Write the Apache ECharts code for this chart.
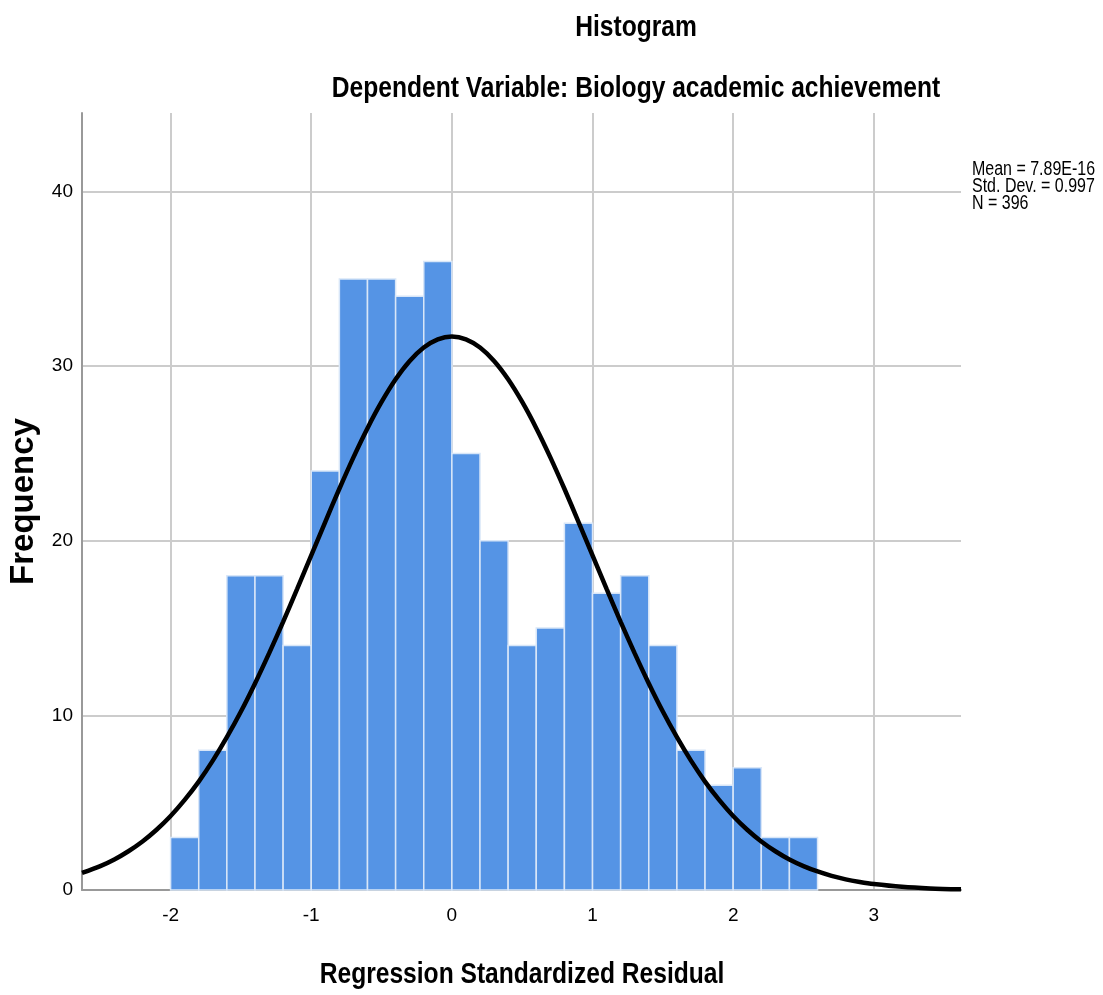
<!DOCTYPE html>
<html>
  <head>
    <meta charset="utf-8" />
    <title>Histogram</title>
    <script src="https://cdnjs.cloudflare.com/ajax/libs/echarts/6.0.0/echarts.min.js"></script>
  </head>
  <body>
    <style>
      html,
      body {
        width: 100%;
        height: 100%;
        margin: 0;
        padding: 0;
        background: #ffffff;
      }
      #main {
        width: 1103px;
        height: 995px;
      }
    </style>
    <div id="main"></div>
    <script type="text/javascript">

      // histogram bins (left edge of each 0.2 wide bin) and counts
      var binStarts = [-2.0, -1.8, -1.6, -1.4, -1.2, -1.0, -0.8, -0.6, -0.4, -0.2,
                       0.0, 0.2, 0.4, 0.6, 0.8, 1.0, 1.2, 1.4, 1.6, 1.8, 2.0, 2.2, 2.4];
      var binWidth = 0.2;
      var counts = [3, 8, 18, 18, 14, 24, 35, 35, 34, 36,
                    25, 20, 14, 15, 21, 17, 18, 14, 8, 6, 7, 3, 3];

      // normal curve
      var curveX = [-2.63, -2.5, -2.4, -2.3, -2.2, -2.1, -2.0, -1.9, -1.8, -1.7, -1.6, -1.5, -1.4,
                    -1.3, -1.2, -1.1, -1.0, -0.9, -0.8, -0.7, -0.6, -0.5, -0.4, -0.3, -0.2, -0.1,
                    0.0, 0.1, 0.2, 0.3, 0.4, 0.5, 0.6, 0.7, 0.8, 0.9, 1.0, 1.1, 1.2, 1.3,
                    1.4, 1.5, 1.6, 1.7, 1.8, 1.9, 2.0, 2.1, 2.2, 2.3, 2.4, 2.5, 2.6, 2.7,
                    2.8, 2.9, 3.0, 3.2, 3.4, 3.62];
      var curveY = [0.98, 1.37, 1.75, 2.22, 2.78, 3.45, 4.24, 5.16, 6.21, 7.41, 8.75, 10.22, 11.83,
                    13.55, 15.36, 17.25, 19.17, 21.09, 22.98, 24.78, 26.45, 27.95, 29.25, 30.30, 31.07, 31.54,
                    31.7, 31.54, 31.07, 30.30, 29.25, 27.95, 26.45, 24.78, 22.98, 21.09, 19.17, 17.25, 15.36, 13.55,
                    11.83, 10.22, 8.75, 7.41, 6.21, 5.16, 4.24, 3.45, 2.78, 2.22, 1.75, 1.37, 1.06, 0.81,
                    0.61, 0.46, 0.34, 0.18, 0.09, 0.04];

      var xTicks = [-2, -1, 0, 1, 2, 3];
      var yTicks = [0, 10, 20, 30, 40];
      var statsLines = ['Mean = 7.89E-16', 'Std. Dev. = 0.997', 'N = 396'];

      var sans = '"Liberation Sans", Arial, sans-serif';
      var squeeze = 0.82; // the reference uses a condensed face

      var chartDom = document.getElementById('main');
      var myChart = echarts.init(chartDom);

      var barData = binStarts.map(function (b, i) {
        return [b, b + binWidth, counts[i]];
      });
      var curveData = curveX.map(function (x, i) {
        return [x, curveY[i]];
      });

      var option = {
        animation: false,
        backgroundColor: '#ffffff',
        grid: { left: 82, right: 142, top: 113, bottom: 105, outerBoundsMode: 'none' },
        graphic: [
          {
            type: 'text', x: 636, y: 28, scaleX: squeeze,
            style: { text: 'Histogram', font: 'bold 30px ' + sans, fill: '#000', align: 'center', verticalAlign: 'middle' }
          },
          {
            type: 'text', x: 636, y: 89, scaleX: squeeze,
            style: { text: 'Dependent Variable: Biology academic achievement', font: 'bold 30px ' + sans, fill: '#000', align: 'center', verticalAlign: 'middle' }
          },
          {
            type: 'text', x: 522, y: 975, scaleX: squeeze,
            style: { text: 'Regression Standardized Residual', font: 'bold 30px ' + sans, fill: '#000', align: 'center', verticalAlign: 'middle' }
          },
          {
            type: 'text', x: 972, y: 161, scaleX: squeeze,
            style: { text: statsLines.join('\n'), font: '19.5px ' + sans, lineHeight: 17, fill: '#000', align: 'left', verticalAlign: 'top' }
          }
        ],
        xAxis: {
          type: 'value',
          min: -2.63,
          max: 3.62,
          axisLine: { show: true, onZero: false, lineStyle: { color: '#999999', width: 2 } },
          axisTick: { show: false, customValues: xTicks },
          axisLabel: { customValues: xTicks, fontFamily: sans, fontSize: 19, color: '#000', margin: 16 },
          splitLine: { show: true, lineStyle: { color: '#cccccc', width: 2 } }
        },
        yAxis: {
          type: 'value',
          min: 0,
          max: 44.5,
          name: 'Frequency',
          nameLocation: 'middle',
          nameGap: 42,
          nameTextStyle: { fontFamily: sans, fontWeight: 'bold', fontSize: 33, color: '#000' },
          axisLine: { show: true, onZero: false, lineStyle: { color: '#999999', width: 2 } },
          axisTick: { show: false, customValues: yTicks },
          axisLabel: { customValues: yTicks, fontFamily: sans, fontSize: 19, color: '#000', margin: 9 },
          splitLine: { show: true, showMinLine: false, lineStyle: { color: '#cccccc', width: 2 } }
        },
        series: [
          {
            type: 'custom',
            data: barData,
            renderItem: function (params, api) {
              var p0 = api.coord([api.value(0), 0]);
              var p1 = api.coord([api.value(1), api.value(2)]);
              return {
                type: 'rect',
                shape: { x: p0[0], y: p1[1], width: p1[0] - p0[0], height: p0[1] - p1[1] },
                style: { fill: '#5594e5', stroke: '#d8e6f8', lineWidth: 1.5 }
              };
            },
            encode: { x: [0, 1], y: 2 },
            z: 2
          },
          {
            type: 'line',
            data: curveData,
            smooth: 0.3,
            showSymbol: false,
            lineStyle: { color: '#000000', width: 4.5 },
            z: 3
          }
        ]
      };

      myChart.setOption(option);
    </script>
  </body>
</html>
